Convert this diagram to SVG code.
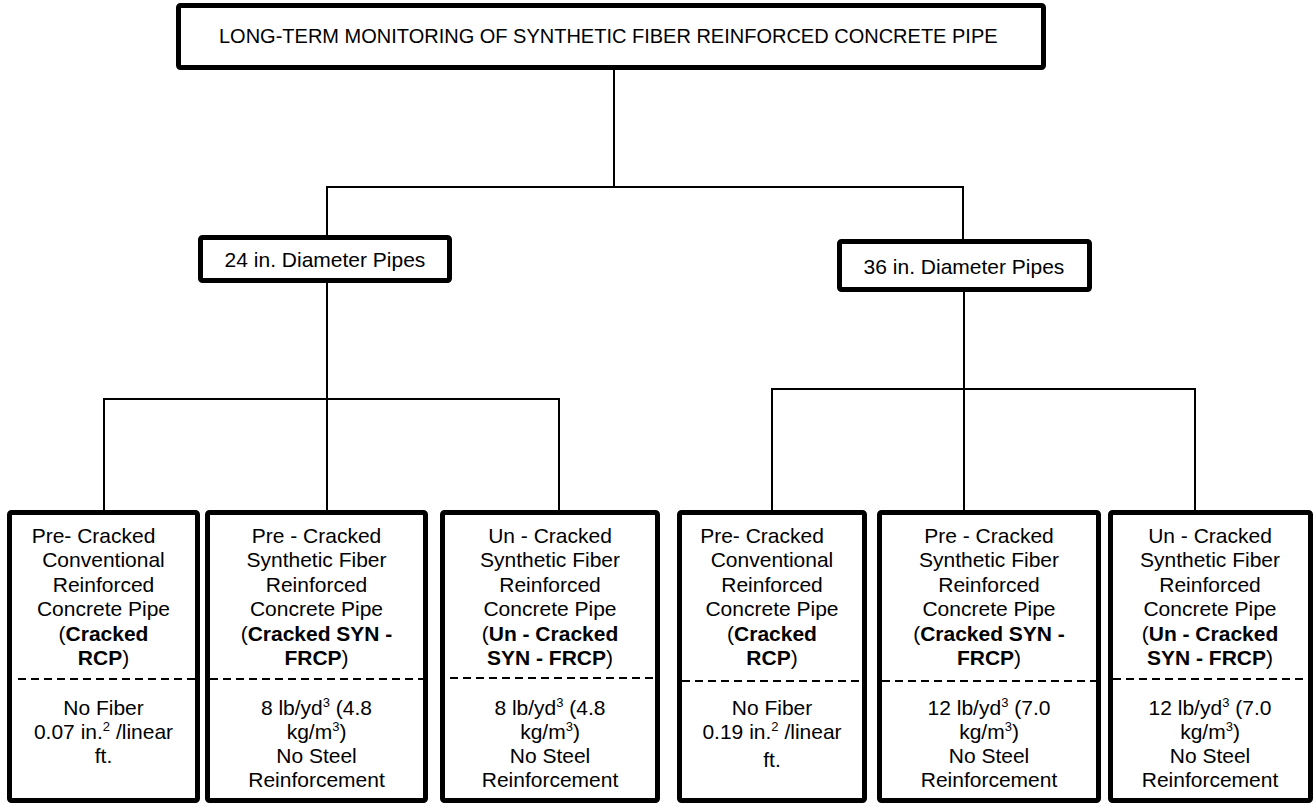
<svg xmlns="http://www.w3.org/2000/svg" width="1314" height="804" viewBox="0 0 1314 804">
<style>
  text { font-family: "Liberation Sans", Arial, sans-serif; font-size: 21px; fill: #000; }
  .c { text-anchor: middle; }
  .b { font-weight: bold; }
  .sup { font-size: 13px; }
  .ttl { font-size: 20px; }
  .box { fill: #fff; stroke: #000; stroke-width: 5; }
  .conn line { stroke: #000; stroke-width: 2; }
  .dash { stroke: #000; stroke-width: 2; stroke-dasharray: 8 5; }
</style>
<rect width="1314" height="804" fill="#fff"/>
<g class="conn" id="connectors">
  <line x1="614" y1="68" x2="614" y2="187"/>
  <line x1="326" y1="187" x2="964" y2="187"/>
  <line x1="327" y1="187" x2="327" y2="236"/>
  <line x1="963" y1="187" x2="963" y2="240"/>
  <line x1="327" y1="282" x2="327" y2="511"/>
  <line x1="103" y1="399" x2="560" y2="399"/>
  <line x1="104" y1="399" x2="104" y2="511"/>
  <line x1="559" y1="399" x2="559" y2="511"/>
  <line x1="964" y1="291" x2="964" y2="511"/>
  <line x1="771" y1="389" x2="1196" y2="389"/>
  <line x1="772" y1="389" x2="772" y2="511"/>
  <line x1="1195" y1="389" x2="1195" y2="511"/>
</g>
<g id="title">
  <rect class="box" x="178.5" y="5.5" width="865" height="62" rx="2"/>
  <text class="ttl" x="219" y="43">LONG-TERM MONITORING OF SYNTHETIC FIBER REINFORCED CONCRETE PIPE</text>
</g>
<g id="d24">
  <rect class="box" x="200.5" y="237.5" width="249" height="43" rx="2"/>
  <text class="c" x="325" y="267">24 in. Diameter Pipes</text>
</g>
<g id="d36">
  <rect class="box" x="839.5" y="241.5" width="250" height="48" rx="2"/>
  <text class="c" x="964" y="274">36 in. Diameter Pipes</text>
</g>
<g id="b1">
  <rect class="box" x="9.5" y="512.5" width="188" height="288" rx="2"/>
  <text class="c" x="93.5" y="543">Pre- Cracked</text>
  <text class="c" x="103.5" y="567">Conventional</text>
  <text class="c" x="103.5" y="592">Reinforced</text>
  <text class="c" x="103.5" y="616">Concrete Pipe</text>
  <text class="c" x="103.5" y="641">(<tspan class="b">Cracked</tspan></text>
  <text class="c" x="103.5" y="665"><tspan class="b">RCP</tspan>)</text>
  <line class="dash" x1="18" y1="679" x2="197" y2="679"/>
  <text class="c" x="103.5" y="715">No Fiber</text>
  <text class="c" x="103.5" y="739">0.07 in.<tspan class="sup" dy="-8">2</tspan><tspan dy="8"> /linear</tspan></text>
  <text class="c" x="103.5" y="763">ft.</text>
</g>
<g id="b2">
  <rect class="box" x="207.5" y="512.5" width="218" height="288" rx="2"/>
  <text class="c" x="316.5" y="543">Pre - Cracked</text>
  <text class="c" x="316.5" y="567">Synthetic Fiber</text>
  <text class="c" x="316.5" y="592">Reinforced</text>
  <text class="c" x="316.5" y="616">Concrete Pipe</text>
  <text class="c" x="316.5" y="641">(<tspan class="b">Cracked SYN -</tspan></text>
  <text class="c" x="316.5" y="665"><tspan class="b">FRCP</tspan>)</text>
  <line class="dash" x1="210" y1="679" x2="424" y2="679"/>
  <text class="c" x="316.5" y="715">8 lb/yd<tspan class="sup" dy="-8">3</tspan><tspan dy="8"> (4.8</tspan></text>
  <text class="c" x="316.5" y="739">kg/m<tspan class="sup" dy="-8">3</tspan><tspan dy="8">)</tspan></text>
  <text class="c" x="316.5" y="763">No Steel</text>
  <text class="c" x="316.5" y="787">Reinforcement</text>
</g>
<g id="b3">
  <rect class="box" x="442.5" y="512.5" width="215" height="288" rx="2"/>
  <text class="c" x="550" y="543">Un - Cracked</text>
  <text class="c" x="550" y="567">Synthetic Fiber</text>
  <text class="c" x="550" y="592">Reinforced</text>
  <text class="c" x="550" y="616">Concrete Pipe</text>
  <text class="c" x="550" y="641">(<tspan class="b">Un - Cracked</tspan></text>
  <text class="c" x="550" y="665"><tspan class="b">SYN - FRCP</tspan>)</text>
  <line class="dash" x1="450" y1="678" x2="655" y2="678"/>
  <text class="c" x="550" y="715">8 lb/yd<tspan class="sup" dy="-8">3</tspan><tspan dy="8"> (4.8</tspan></text>
  <text class="c" x="550" y="739">kg/m<tspan class="sup" dy="-8">3</tspan><tspan dy="8">)</tspan></text>
  <text class="c" x="550" y="763">No Steel</text>
  <text class="c" x="550" y="787">Reinforcement</text>
</g>
<g id="b4">
  <rect class="box" x="679.5" y="512.5" width="185" height="288" rx="2"/>
  <text class="c" x="762" y="543">Pre- Cracked</text>
  <text class="c" x="772" y="567">Conventional</text>
  <text class="c" x="772" y="592">Reinforced</text>
  <text class="c" x="772" y="616">Concrete Pipe</text>
  <text class="c" x="772" y="641">(<tspan class="b">Cracked</tspan></text>
  <text class="c" x="772" y="665"><tspan class="b">RCP</tspan>)</text>
  <line class="dash" x1="682" y1="681" x2="864" y2="681"/>
  <text class="c" x="772" y="715">No Fiber</text>
  <text class="c" x="772" y="739">0.19 in.<tspan class="sup" dy="-8">2</tspan><tspan dy="8"> /linear</tspan></text>
  <text class="c" x="772" y="767">ft.</text>
</g>
<g id="b5">
  <rect class="box" x="879.5" y="512.5" width="219" height="288" rx="2"/>
  <text class="c" x="989" y="543">Pre - Cracked</text>
  <text class="c" x="989" y="567">Synthetic Fiber</text>
  <text class="c" x="989" y="592">Reinforced</text>
  <text class="c" x="989" y="616">Concrete Pipe</text>
  <text class="c" x="989" y="641">(<tspan class="b">Cracked SYN -</tspan></text>
  <text class="c" x="989" y="665"><tspan class="b">FRCP</tspan>)</text>
  <line class="dash" x1="882" y1="681" x2="1097" y2="681"/>
  <text class="c" x="989" y="715">12 lb/yd<tspan class="sup" dy="-8">3</tspan><tspan dy="8"> (7.0</tspan></text>
  <text class="c" x="989" y="739">kg/m<tspan class="sup" dy="-8">3</tspan><tspan dy="8">)</tspan></text>
  <text class="c" x="989" y="763">No Steel</text>
  <text class="c" x="989" y="787">Reinforcement</text>
</g>
<g id="b6">
  <rect class="box" x="1110.5" y="512.5" width="200" height="288" rx="2"/>
  <text class="c" x="1210" y="543">Un - Cracked</text>
  <text class="c" x="1210" y="567">Synthetic Fiber</text>
  <text class="c" x="1210" y="592">Reinforced</text>
  <text class="c" x="1210" y="616">Concrete Pipe</text>
  <text class="c" x="1210" y="641">(<tspan class="b">Un - Cracked</tspan></text>
  <text class="c" x="1210" y="665"><tspan class="b">SYN - FRCP</tspan>)</text>
  <line class="dash" x1="1113" y1="679" x2="1308" y2="679"/>
  <text class="c" x="1210" y="715">12 lb/yd<tspan class="sup" dy="-8">3</tspan><tspan dy="8"> (7.0</tspan></text>
  <text class="c" x="1210" y="739">kg/m<tspan class="sup" dy="-8">3</tspan><tspan dy="8">)</tspan></text>
  <text class="c" x="1210" y="763">No Steel</text>
  <text class="c" x="1210" y="787">Reinforcement</text>
</g>
</svg>
